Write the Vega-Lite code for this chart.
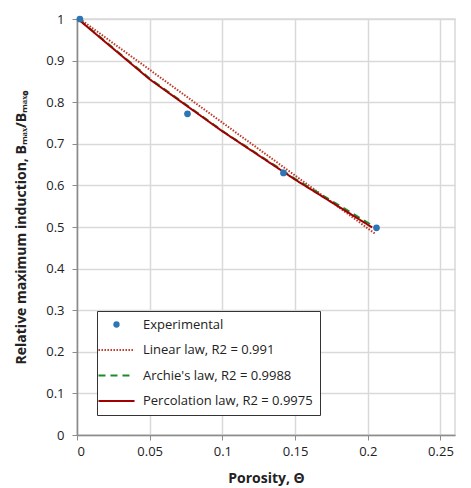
{
  "$schema": "https://vega.github.io/schema/vega-lite/v6.json",
  "autosize": {"type": "none"},
  "width": 378,
  "height": 416,
  "padding": {"left": 77, "top": 19, "right": 16, "bottom": 53},
  "background": "white",
  "config": {
    "font": "Open Sans",
    "view": {"stroke": "#d9d9d9", "strokeWidth": 1.5},
    "axis": {
      "gridColor": "#d9d9d9",
      "gridWidth": 1.5,
      "domainColor": "#8c8c8c",
      "domainWidth": 1.5,
      "tickColor": "#8c8c8c",
      "tickSize": 5,
      "labelFont": "Open Sans",
      "labelFontSize": 13,
      "labelColor": "#222",
      "titleFont": "Open Sans",
      "titleFontSize": 14,
      "titleFontWeight": "bold",
      "titleColor": "#222"
    }
  },
  "datasets": {
    "exp": [
      {"series": "Experimental", "x": 0.002, "y": 1.0},
      {"series": "Experimental", "x": 0.076, "y": 0.772},
      {"series": "Experimental", "x": 0.142, "y": 0.630},
      {"series": "Experimental", "x": 0.206, "y": 0.498}
    ],
    "fits": [
      {"series": "Linear law, R2 = 0.991", "x": 0.002, "y": 1.0},
      {"series": "Linear law, R2 = 0.991", "x": 0.205, "y": 0.484},
      {"series": "Archie's law, R2 = 0.9988", "x": 0.002, "y": 0.997},
      {"series": "Archie's law, R2 = 0.9988", "x": 0.05, "y": 0.857},
      {"series": "Archie's law, R2 = 0.9988", "x": 0.1, "y": 0.731},
      {"series": "Archie's law, R2 = 0.9988", "x": 0.15, "y": 0.616},
      {"series": "Archie's law, R2 = 0.9988", "x": 0.203, "y": 0.504},
      {"series": "Percolation law, R2 = 0.9975", "x": 0.002, "y": 0.996},
      {"series": "Percolation law, R2 = 0.9975", "x": 0.05, "y": 0.855},
      {"series": "Percolation law, R2 = 0.9975", "x": 0.1, "y": 0.730},
      {"series": "Percolation law, R2 = 0.9975", "x": 0.15, "y": 0.614},
      {"series": "Percolation law, R2 = 0.9975", "x": 0.203, "y": 0.499}
    ]
  },
  "layer": [
    {
      "data": {"name": "fits"},
      "mark": {"type": "line", "strokeWidth": 2},
      "encoding": {
        "x": {"field": "x", "type": "quantitative", "scale": {"domain": [0, 0.25]}, "axis": {"values": [0, 0.05, 0.1, 0.15, 0.2, 0.25], "labelExpr": "'' + datum.value", "title": "Porosity, Θ", "labelPadding": 5, "titlePadding": 13}},
        "y": {"field": "y", "type": "quantitative", "scale": {"domain": [0, 1]}, "axis": {"values": [0, 0.1, 0.2, 0.3, 0.4, 0.5, 0.6, 0.7, 0.8, 0.9, 1], "labelExpr": "'' + datum.value", "title": "Relative maximum induction, Bₘₐₓ/Bₘₐₓ₀", "labelPadding": 8, "titlePadding": 17}},
        "color": {"field": "series", "type": "nominal", "scale": {"domain": ["Experimental", "Linear law, R2 = 0.991", "Archie's law, R2 = 0.9988", "Percolation law, R2 = 0.9975"], "range": ["#2e75b6", "#c0392b", "#1e8a2e", "#a00000"]}, "legend": {
          "title": null, "orient": "none", "legendX": 20, "legendY": 292,
          "strokeColor": "#333", "fillColor": "white", "padding": 7,
          "labelFont": "Open Sans", "labelFontSize": 13, "labelColor": "#222", "labelLimit": 300,
          "symbolSize": 400, "symbolOffset": 6, "rowPadding": 11.5, "symbolStrokeWidth": 2,
          "labelOffset": 20,
          "encode": {"symbols": {"update": {
            "shape": {"signal": "datum.value === 'Experimental' ? 'circle' : 'M-1,0H1'"},
            "size": {"signal": "datum.value === 'Experimental' ? 40 : 1300"},
            "stroke": {"scale": "color", "field": "value"},
            "fill": {"signal": "datum.value === 'Experimental' ? '#2e75b6' : 'transparent'"},
            "strokeWidth": {"signal": "datum.value === 'Experimental' ? 0 : 2"},
            "strokeDash": {"signal": "datum.value === 'Linear law, R2 = 0.991' ? [1.5,1.5] : datum.value === \"Archie's law, R2 = 0.9988\" ? [7,5] : [1,0]"}
          }}}
        }},
        "strokeDash": {"field": "series", "type": "nominal", "scale": {"domain": ["Experimental", "Linear law, R2 = 0.991", "Archie's law, R2 = 0.9988", "Percolation law, R2 = 0.9975"], "range": [[1, 0], [1.5, 1.5], [7, 5], [1, 0]]}, "legend": null}
      }
    },
    {
      "data": {"name": "exp"},
      "mark": {"type": "point", "filled": true, "size": 45, "opacity": 1},
      "encoding": {
        "x": {"field": "x", "type": "quantitative"},
        "y": {"field": "y", "type": "quantitative"},
        "color": {"field": "series", "type": "nominal"}
      }
    }
  ]
}
